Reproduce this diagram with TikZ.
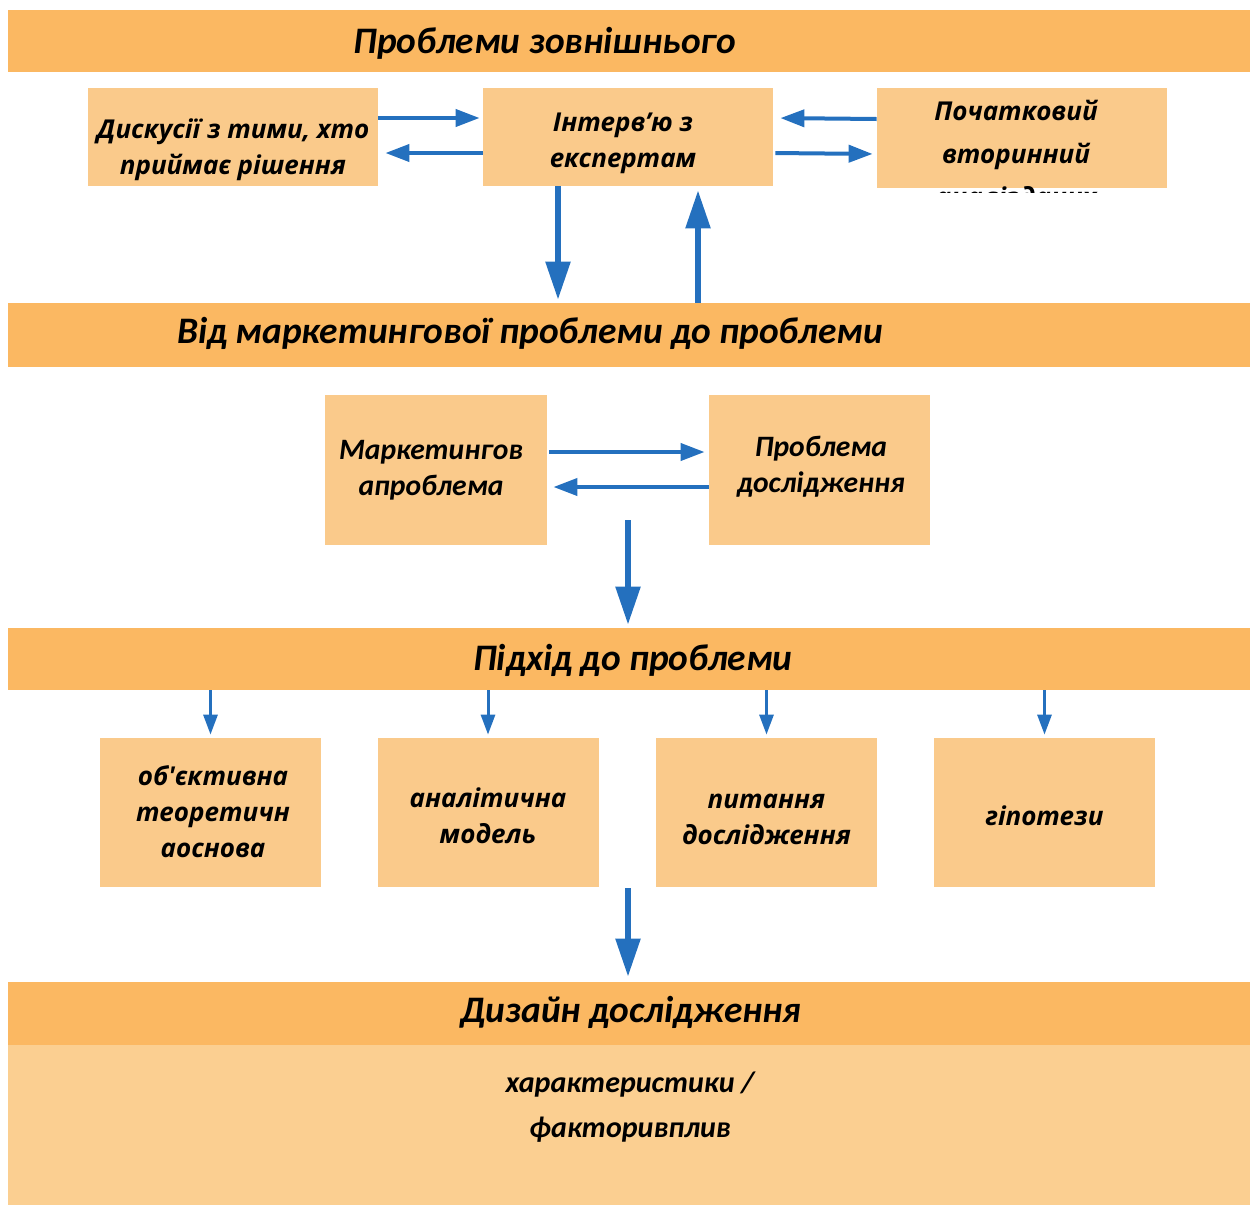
\documentclass[tikz,border=0pt]{standalone}
\usepackage{fontspec}
\setmainfont{Open Sans}
\newfontfamily\calfont{Carlito}
\usetikzlibrary{arrows.meta,positioning}

\definecolor{bandorange}{HTML}{FBB862}
\definecolor{boxorange}{HTML}{FACA8B}
\definecolor{paleorange}{HTML}{FBCF91}
\definecolor{arrowblue}{HTML}{2470BE}

\begin{document}
\begin{tikzpicture}[x=0.5pt, y=-0.5pt,
    band/.style={fill=bandorange, minimum width=621pt, minimum height=31pt, inner sep=0pt},
    box/.style={fill=boxorange, inner sep=0pt},
    bandtext/.style={font=\calfont\bfseries\itshape\fontsize{18.7}{22}\selectfont},
    wide/.style={font=\bfseries\itshape\fontsize{13}{18}\selectfont, align=center},
    narrow/.style={font=\calfont\bfseries\itshape\fontsize{14.8}{18}\selectfont, align=center},
    flow/.style={draw=arrowblue, line width=2pt, -{Triangle[width=8.5pt,length=12pt]}},
    bigflow/.style={draw=arrowblue, line width=2.75pt, -{Triangle[width=12pt,length=19pt]}},
    smallflow/.style={draw=arrowblue, line width=1.5pt, -{Triangle[width=7pt,length=10pt]}}]
    \useasboundingbox (0,0) rectangle (1252,1205);
    % external problems
    \node[band, minimum height=31pt] (ext) at (629,41) {};
    \node[bandtext] (exttxt) at (545,43) {Проблеми зовнішнього};
    \node[box, minimum width=145pt, minimum height=49pt] (disc) at (233,137) {};
    \node[wide] (disctxt) at (233,150) {Дискусії з тими, хто\\приймає рішення};
    \node[box, minimum width=145pt, minimum height=49pt] (interv) at (628,137) {};
    \node[wide] (intervtxt) at (623,143.5) {Інтерв’ю з\\експертам};
    \node[box, minimum width=145pt, minimum height=50pt] (secdata) at (1022,138) {};
    \begin{scope}
        \clip (secdata.north west) rectangle ([yshift=-2pt]secdata.south east);
        \node[wide, font=\bfseries\itshape\fontsize{13}{21.5}\selectfont] (secdatatxt) at (1016,153) {Початковий\\вторинний\\аналізданих};
    \end{scope}
    \draw[flow, shorten >=1.5pt] ([yshift=9.5pt]disc.east) -- ([yshift=9.5pt]interv.west);
    \draw[flow, shorten >=3.5pt] ([yshift=-8pt]interv.west) -- ([yshift=-8pt]disc.east);
    \draw[flow, shorten >=3.5pt] ([yshift=9.5pt]secdata.west) -- ([yshift=9.5pt]interv.east);
    \draw[flow, shorten <=1pt, shorten >=2pt] ([yshift=-8pt]interv.east) -- ([yshift=-8pt]secdata.west);
    % marketing problem
    \node[band, minimum height=32pt] (mk) at (629,335) {};
    \node[bandtext] (mktxt) at (530,333) {Від маркетингової проблеми до проблеми};
    \draw[bigflow, shorten >=1.5pt] ([xshift=-35pt]interv.south) -- ([xshift=-35pt]interv.south |- mk.north);
    \draw[bigflow, shorten >=2pt] ([xshift=35pt]interv.south |- mk.north) -- ([xshift=35pt]interv.south);
    \node[box, minimum width=111pt, minimum height=75pt] (mkprob) at (436,470) {};
    \node[narrow] (mkprobtxt) at (431,470) {Маркетингов\\апроблема};
    \node[box, minimum width=110.5pt, minimum height=75pt] (resprob) at (819.5,470) {};
    \node[narrow] (resprobtxt) at (821,467) {Проблема\\дослідження};
    \draw[flow, shorten <=1pt, shorten >=2pt] ([yshift=9pt]mkprob.east) -- ([yshift=9pt]resprob.west);
    \draw[flow, shorten >=3pt] ([yshift=-8.5pt]resprob.west) -- ([yshift=-8.5pt]mkprob.east);
    % approach
    \node[band, minimum height=31pt] (appr) at (629,659) {};
    \node[bandtext] (apprtxt) at (633,660) {Підхід до проблеми};
    \coordinate (split) at (628,520);
    \draw[bigflow, shorten >=1.5pt] (split) -- (split |- appr.north);
    \node[box, minimum width=110.5pt, minimum height=74.5pt] (obj) at (210.5,812.5) {};
    \node[wide] (objtxt) at (213,811.5) {об\textquotesingle єктивна\\теоретичн\\аоснова};
    \node[box, minimum width=110.5pt, minimum height=74.5pt] (model) at (488,812.5) {};
    \node[wide] (modeltxt) at (488,815.5) {аналітична\\модель};
    \node[box, minimum width=110.5pt, minimum height=74.5pt] (quest) at (766.5,812.5) {};
    \node[wide] (questtxt) at (766.5,819.5) {питання\\дослідження};
    \node[box, minimum width=110.5pt, minimum height=74.5pt] (hyp) at (1044.5,812.5) {};
    \node[wide] (hyptxt) at (1044.5,815.5) {гіпотези};
    \foreach \b in {obj,model,quest,hyp}
    {
        \draw[smallflow, shorten >=1.5pt] (appr.south -| \b.north) -- (\b.north);
    }
    % research design
    \node[fill=paleorange, inner sep=0pt, minimum width=621pt, minimum height=80pt] (designbody) at (629,1125) {};
    \node[band, minimum height=31.5pt] (design) at (629,1013.5) {};
    \node[bandtext] (designtxt) at (631,1012) {Дизайн дослідження};
    \node[font=\calfont\bfseries\itshape\fontsize{15}{22.5}\selectfont, align=center] (designdet) at (630,1107) {характеристики /\\факторивплив};
    \coordinate (merge) at (628,888);
    \draw[bigflow, shorten >=2.5pt] (merge) -- (merge |- design.north);
\end{tikzpicture}
\end{document}
